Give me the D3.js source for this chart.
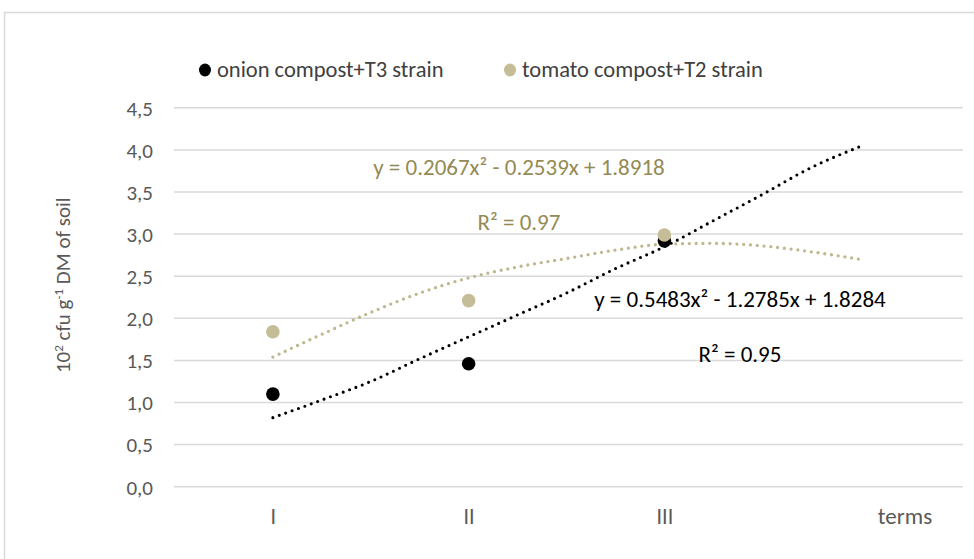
<!DOCTYPE html>
<html>
<head>
<meta charset="utf-8">
<script src="https://cdn.jsdelivr.net/npm/d3@7/dist/d3.min.js"></script>
<style>
  html, body { margin: 0; padding: 0; background: #ffffff; }
  svg { display: block; }
  text { font-family: Carlito, Lato, "Open Sans", sans-serif; }
</style>
</head>
<body>
<script>
// ---------- data ----------
const categories = ["I", "II", "III", ""];
const categoryX = [1, 2, 3, 4];
const onionValues = [1.10, 1.46, 2.92];
const tomatoValues = [1.84, 2.21, 2.99];
const yTicks = [0, 0.5, 1, 1.5, 2, 2.5, 3, 3.5, 4, 4.5];
const trendX = [1, 1.25, 1.5, 1.75, 2, 2.25, 2.5, 2.75, 3, 3.25, 3.5, 3.75, 4];
const onionTrend = [0.82, 1.03, 1.25, 1.52, 1.78, 2.04, 2.30, 2.59, 2.85, 3.16, 3.47, 3.79, 4.04];
const tomatoTrend = [1.54, 1.81, 2.07, 2.30, 2.48, 2.61, 2.71, 2.81, 2.88, 2.89, 2.86, 2.79, 2.70];
const seriesNames = ["onion compost+T3 strain", "tomato compost+T2 strain"];
const tomatoEquation = "y = 0.2067x² - 0.2539x + 1.8918";
const tomatoR2 = "R² = 0.97";
const onionEquation = "y = 0.5483x² - 1.2785x + 1.8284";
const onionR2 = "R² = 0.95";
const xTitle = "terms";

// ---------- drawing ----------
const W = 974, H = 559;
const colBlack = "#000000", colTan = "#C4BD97", colTanText = "#948A54";
const svg = d3.select("body").append("svg").attr("width", W).attr("height", H);

// chart border
svg.append("rect").attr("x", 4.5).attr("y", 12.5).attr("width", W + 10).attr("height", H + 10)
  .attr("fill", "none").attr("stroke", "#d9d9d9").attr("stroke-width", 1.5);

const x = d3.scaleLinear().domain([0.5, 4.5]).range([175, 958]);
const y = d3.scaleLinear().domain([0, 4.5]).range([486.7, 107.8]);
const gridLeft = 174, gridRight = 963;

// gridlines + y tick labels
const yAxis = d3.axisLeft(y).tickValues(yTicks).tickSize(0).tickPadding(0)
  .tickFormat(d => d3.format(".1f")(d).replace(".", ","));
const gy = svg.append("g").attr("transform", `translate(${gridLeft - 21},0)`).call(yAxis);
gy.select(".domain").remove();
gy.selectAll("text").attr("fill", "#595959").style("font-size", "21px").attr("dy", "0.35em");

svg.append("g").selectAll("line").data(yTicks).join("line")
  .attr("x1", gridLeft).attr("x2", gridRight)
  .attr("y1", d => y(d)).attr("y2", d => y(d))
  .attr("stroke", "#d9d9d9").attr("stroke-width", 1.5);

// x category labels
const xAxis = d3.axisBottom(x).tickValues(categoryX).tickSize(0).tickPadding(0)
  .tickFormat((d, i) => categories[i]);
const gx = svg.append("g").attr("transform", `translate(0,${y(0) + 37})`).call(xAxis);
gx.select(".domain").remove();
gx.selectAll("text").attr("fill", "#595959").style("font-size", "22px").attr("dy", "0");

svg.append("text").attr("x", 905).attr("y", y(0) + 37).attr("text-anchor", "middle")
  .attr("fill", "#595959").style("font-size", "23px").text(xTitle);

// y axis title
const yt = svg.append("text").attr("transform", `translate(70,${(y(0) + y(4.5)) / 2 - 12}) rotate(-90)`)
  .attr("text-anchor", "middle").attr("fill", "#595959").style("font-size", "21px");
yt.append("tspan").text("10");
yt.append("tspan").attr("baseline-shift", "super").style("font-size", "13px").text("2");
yt.append("tspan").text(" cfu g");
yt.append("tspan").attr("baseline-shift", "super").style("font-size", "13px").text("-1");
yt.append("tspan").text(" DM of soil");

// trendlines
const line = d3.line().x(d => x(d[0])).y(d => y(d[1])).curve(d3.curveMonotoneX);
svg.append("path").datum(trendX.map((t, i) => [t, tomatoTrend[i]]))
  .attr("d", line).attr("fill", "none").attr("stroke", "#BFB78E")
  .attr("stroke-width", 3.3).attr("stroke-linecap", "round").attr("stroke-dasharray", "0 6.8");
svg.append("path").datum(trendX.map((t, i) => [t, onionTrend[i]]))
  .attr("d", line).attr("fill", "none").attr("stroke", colBlack)
  .attr("stroke-width", 3.1).attr("stroke-linecap", "round").attr("stroke-dasharray", "0 6.8");

// markers
svg.append("g").selectAll("circle").data(onionValues).join("circle")
  .attr("cx", (d, i) => x(categoryX[i])).attr("cy", d => y(d)).attr("r", 6.8).attr("fill", colBlack);
svg.append("g").selectAll("circle").data(tomatoValues).join("circle")
  .attr("cx", (d, i) => x(categoryX[i])).attr("cy", d => y(d)).attr("r", 6.8).attr("fill", colTan);

// equations
function label(txt, cx, by, col) {
  svg.append("text").attr("x", cx).attr("y", by).attr("text-anchor", "middle")
    .attr("fill", col).style("font-size", "23px").text(txt);
}
label(tomatoEquation, 519, 175, colTanText);
label(tomatoR2, 519, 230, colTanText);
label(onionEquation, 740, 307, colBlack);
label(onionR2, 740, 362, colBlack);

// legend
const legend = [
  { name: seriesNames[0], color: colBlack, cx: 205, tx: 217 },
  { name: seriesNames[1], color: colTan, cx: 510, tx: 522 }
];
const lg = svg.append("g").selectAll("g").data(legend).join("g");
lg.append("ellipse").attr("cx", d => d.cx).attr("cy", 70).attr("rx", 6).attr("ry", 6.5).attr("fill", d => d.color);
lg.append("text").attr("x", d => d.tx).attr("y", 77).attr("fill", "#404040").style("font-size", "22.5px")
  .text(d => d.name);
</script>
</body>
</html>
